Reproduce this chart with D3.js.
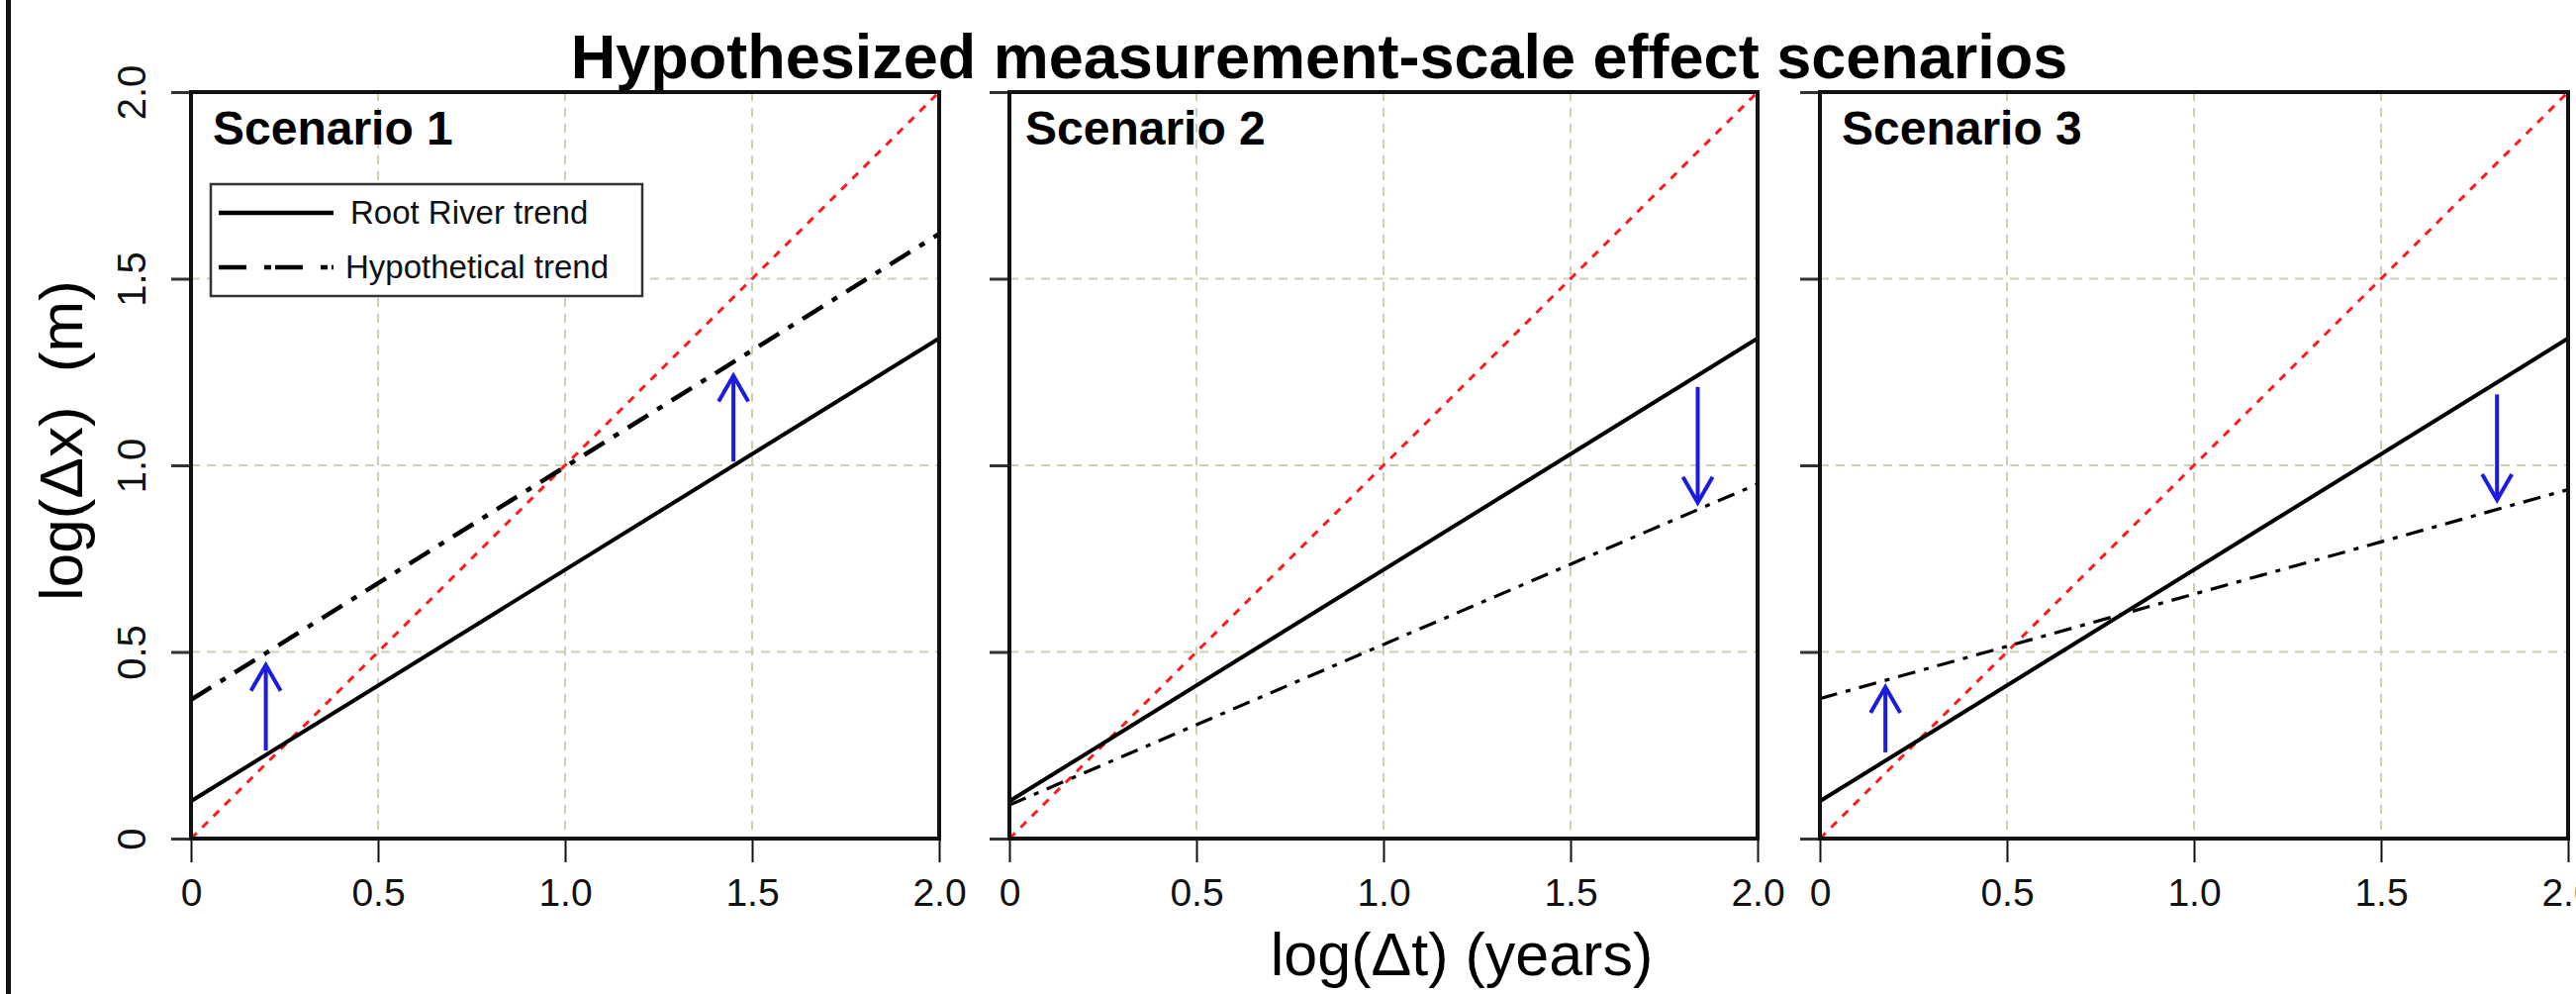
<!DOCTYPE html>
<html>
<head>
<meta charset="utf-8">
<script src="https://cdn.jsdelivr.net/npm/d3@7"></script>
<style>
  body { margin: 0; background: #fff; }
  svg { display: block; font-family: "Liberation Sans", Arial, sans-serif; }
</style>
</head>
<body>
<div id="chart"></div>
<script>
// values
const scenarios = ["Scenario 1", "Scenario 2", "Scenario 3"];
const ticks = [0, 0.5, 1.0, 1.5, 2.0];
const tickLabels = ["0", "0.5", "1.0", "1.5", "2.0"];
const gridValues = [0.5, 1.0, 1.5];

const oneToOne = [[0, 0], [2, 2]];
const rootTrend = [[0, 0.1], [2, 1.34]];
const hypoTrend = [
  [[0, 0.372], [2, 1.62]],
  [[0, 0.09], [2, 0.95]],
  [[0, 0.375], [2, 0.935]]
];
// blue arrows: x, start y, end (tip) y
const arrows = [
  [[0.2, 0.236, 0.465], [1.45, 1.01, 1.24]],
  [[1.84, 1.21, 0.9]],
  [[0.175, 0.231, 0.406], [1.81, 1.19, 0.907]]
];
const legendItems = ["Root River trend", "Hypothetical trend"];

const width = 2603;
const height = 1004;
const plotTop = 93, plotBottom = 847;
const panelLeft = [193, 1020, 1839];
const panelWidth = 756;
const labelOffset = [22, 16, 22];

const svg = d3.select("#chart").append("svg")
  .attr("width", width)
  .attr("height", height);

// thick rule at the far left of the figure
svg.append("rect").attr("x", 6).attr("y", 0).attr("width", 5).attr("height", height).attr("fill", "#111");

svg.append("text")
  .attr("x", 1333).attr("y", 79)
  .attr("text-anchor", "middle")
  .attr("font-weight", "bold")
  .attr("font-size", 63)
  .text("Hypothesized measurement-scale effect scenarios");

svg.append("text")
  .attr("x", 1477).attr("y", 985)
  .attr("text-anchor", "middle")
  .attr("font-size", 61)
  .text("log(\u0394t) (years)");

svg.append("text")
  .attr("transform", "translate(83,445) rotate(-90)")
  .attr("text-anchor", "middle")
  .attr("font-size", 62)
  .style("white-space", "pre")
  .text("log(\u0394x)  (m)");

scenarios.forEach((name, i) => {
  const x = d3.scaleLinear().domain([0, 2]).range([panelLeft[i], panelLeft[i] + panelWidth]);
  const y = d3.scaleLinear().domain([0, 2]).range([plotBottom, plotTop]);
  const line = d3.line().x(d => x(d[0])).y(d => y(d[1]));

  const g = svg.append("g").attr("class", "panel");

  // grid
  g.selectAll(".vgrid").data(gridValues).enter().append("line")
    .attr("x1", d => x(d)).attr("x2", d => x(d))
    .attr("y1", plotTop).attr("y2", plotBottom)
    .attr("stroke", "#cfceb4").attr("stroke-width", 2)
    .attr("stroke-dasharray", "9,7");
  g.selectAll(".hgrid").data(gridValues).enter().append("line")
    .attr("y1", d => y(d)).attr("y2", d => y(d))
    .attr("x1", x(0)).attr("x2", x(2))
    .attr("stroke", "#cfceb4").attr("stroke-width", 2)
    .attr("stroke-dasharray", "9,7");

  // axes
  const xAxis = g.append("g")
    .attr("transform", `translate(0,${plotBottom})`)
    .call(d3.axisBottom(x).tickValues(ticks).tickSize(24).tickPadding(16)
      .tickFormat((d, k) => tickLabels[k]));
  xAxis.select(".domain").remove();
  xAxis.selectAll("line").attr("stroke", "#111").attr("stroke-width", 2);
  xAxis.selectAll("text").attr("font-size", 39).attr("fill", "#111")
    .attr("font-family", "'Liberation Sans', Arial, sans-serif");

  const yAxis = g.append("g")
    .attr("transform", `translate(${x(0)},0)`)
    .call(d3.axisLeft(y).tickValues(ticks).tickSize(20)
      .tickFormat((d, k) => i === 0 ? tickLabels[k] : ""));
  yAxis.select(".domain").remove();
  yAxis.selectAll("line").attr("stroke", "#333").attr("stroke-width", 3);
  yAxis.selectAll("text")
    .attr("x", null).attr("dy", null)
    .attr("text-anchor", "middle")
    .attr("transform", "translate(-46,0) rotate(-90)")
    .attr("font-size", 40).attr("fill", "#111")
    .attr("font-family", "'Liberation Sans', Arial, sans-serif");

  // lines
  g.append("path").attr("d", line(oneToOne))
    .attr("fill", "none").attr("stroke", "#ff1a1a").attr("stroke-width", 3)
    .attr("stroke-dasharray", "8,8");
  g.append("path").attr("d", line(rootTrend))
    .attr("fill", "none").attr("stroke", "#000").attr("stroke-width", 4);
  g.append("path").attr("d", line(hypoTrend[i]))
    .attr("fill", "none").attr("stroke", "#000")
    .attr("stroke-width", i === 0 ? 4.5 : 3.2)
    .attr("stroke-dasharray", i === 0 ? "24,11,6,11" : "18,9,5,9");

  // arrows
  arrows[i].forEach(a => {
    const ax = x(a[0]), y0 = y(a[1]), y1 = y(a[2]);
    const dir = y1 < y0 ? 1 : -1;
    g.append("line")
      .attr("x1", ax).attr("x2", ax).attr("y1", y0).attr("y2", y1 + dir * 1)
      .attr("stroke", "#1c1ce0").attr("stroke-width", 4);
    g.append("path")
      .attr("d", `M${ax - 15},${y1 + dir * 26}L${ax},${y1}L${ax + 15},${y1 + dir * 26}`)
      .attr("fill", "none").attr("stroke", "#1c1ce0").attr("stroke-width", 4)
      .attr("stroke-linejoin", "miter");
  });

  // frame
  g.append("rect")
    .attr("x", x(0)).attr("y", plotTop)
    .attr("width", x(2) - x(0)).attr("height", plotBottom - plotTop)
    .attr("fill", "none").attr("stroke", "#111").attr("stroke-width", 4);

  g.append("text")
    .attr("x", x(0) + labelOffset[i]).attr("y", 146)
    .attr("font-weight", "bold").attr("font-size", 48)
    .text(name);

  if (i === 0) {
    const lg = g.append("g");
    lg.append("rect")
      .attr("x", 213).attr("y", 186).attr("width", 436).attr("height", 113)
      .attr("fill", "#fff").attr("stroke", "#333").attr("stroke-width", 2.5);
    const rows = lg.selectAll(".item").data(legendItems).enter().append("g")
      .attr("transform", (d, k) => `translate(0,${215 + k * 55})`);
    rows.append("line")
      .attr("x1", 221).attr("x2", 337).attr("y1", 0).attr("y2", 0)
      .attr("stroke", "#000").attr("stroke-width", 4.5)
      .attr("stroke-dasharray", (d, k) => k === 0 ? null : "28,18,7,4");
    rows.append("text")
      .attr("x", (d, k) => k === 0 ? 354 : 349).attr("y", 11)
      .attr("font-size", 33).attr("fill", "#111")
      .text(d => d);
  }
});
</script>
</body>
</html>
